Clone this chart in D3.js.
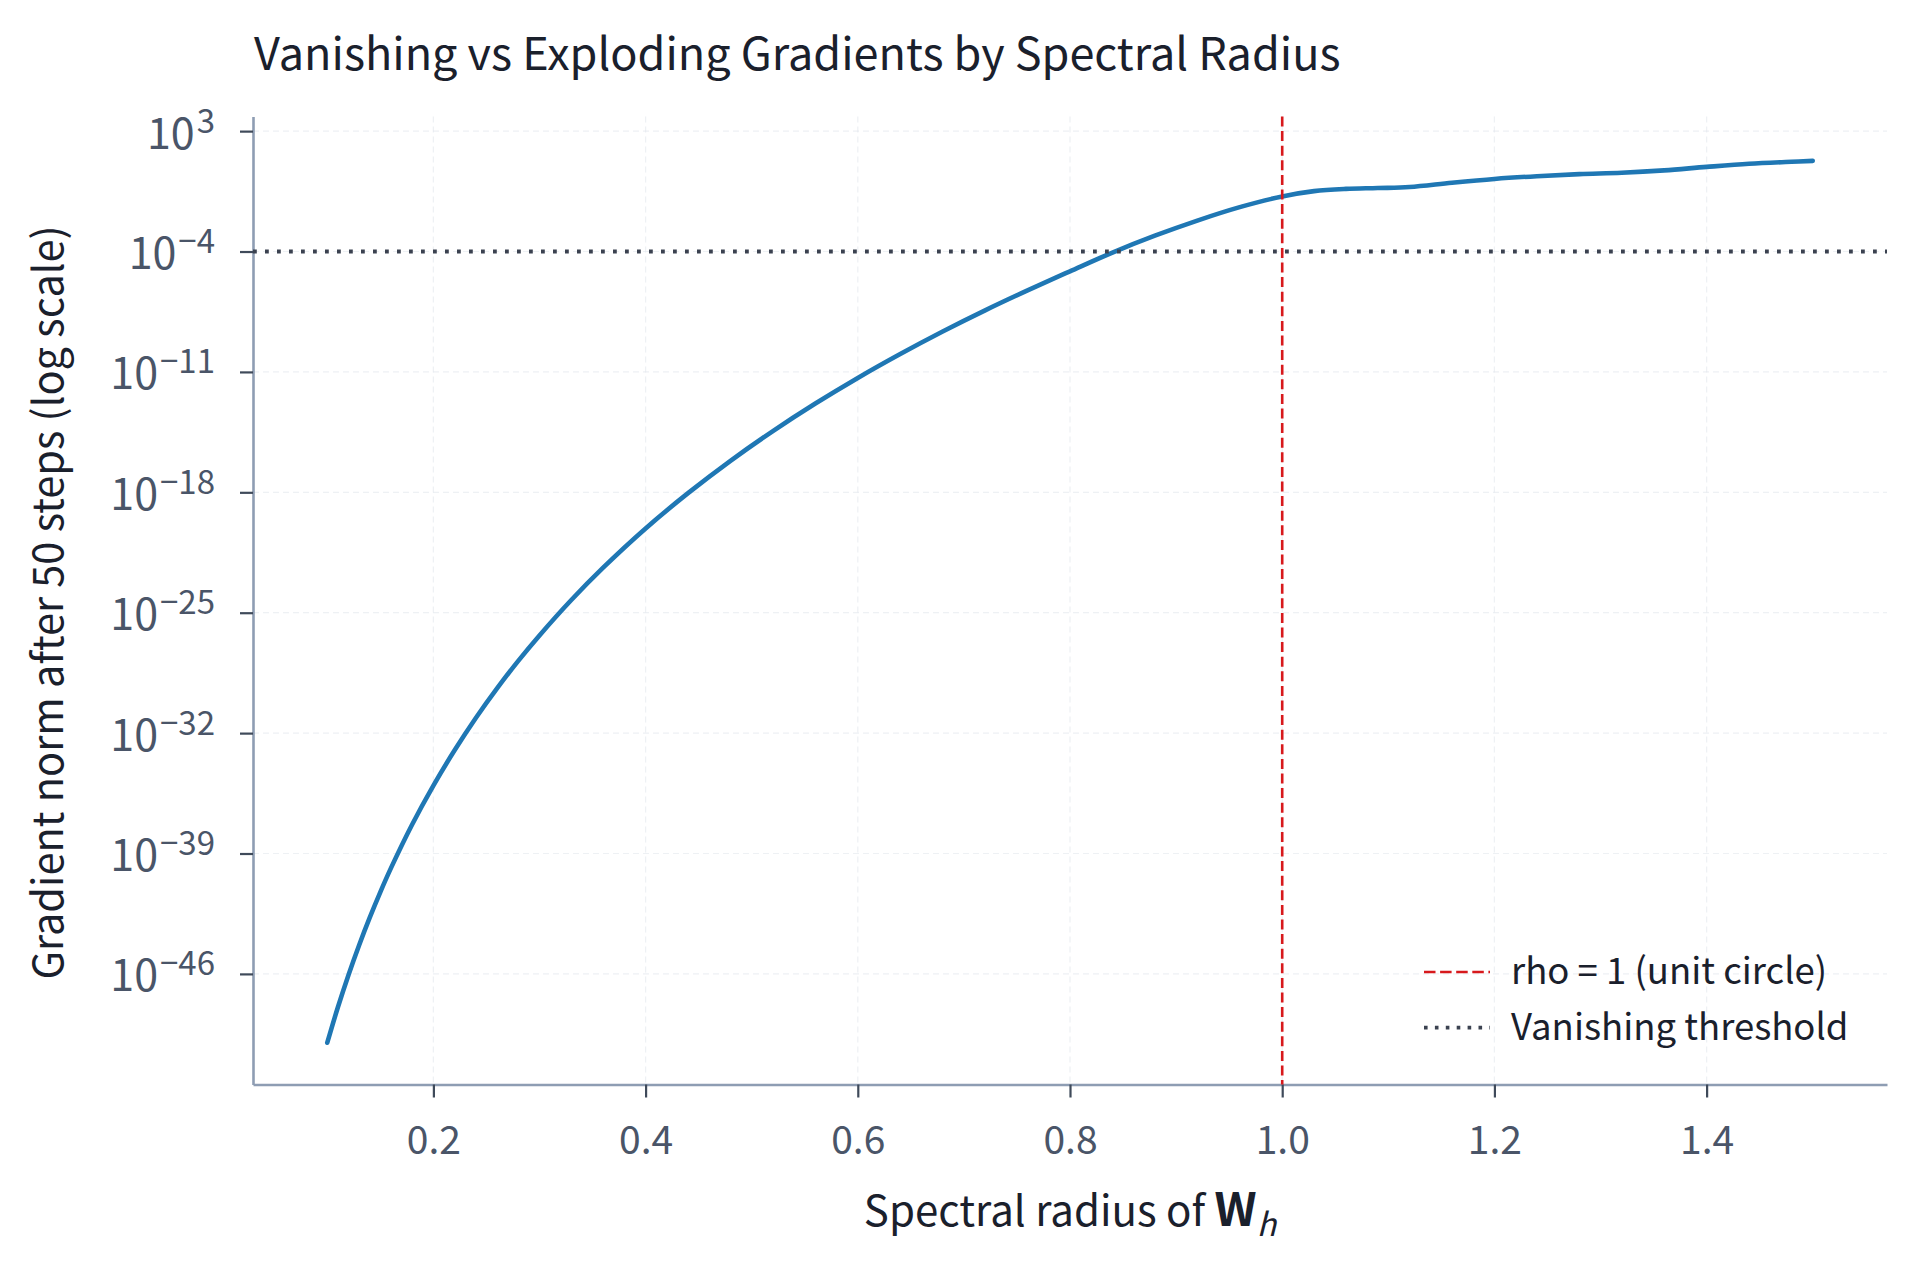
<!DOCTYPE html>
<html>
<head>
<meta charset="utf-8">
<script src="https://cdn.jsdelivr.net/npm/d3@7"></script>
<style>
  body { margin: 0; background: #fff; }
  text { font-family: "Noto Sans CJK KR", "Noto Sans", sans-serif; }
</style>
</head>
<body>
<div id="chart"></div>
<script>
// values
const spectralRadius = [0.10, 0.11, 0.12, 0.13, 0.14, 0.15, 0.16, 0.18, 0.20, 0.22,
                        0.24, 0.26, 0.28, 0.30, 0.33, 0.36, 0.40, 0.44, 0.48, 0.52,
                        0.56, 0.60, 0.64, 0.68, 0.72, 0.76, 0.80, 0.84, 0.88, 0.92,
                        0.96, 1.00, 1.03, 1.06, 1.09, 1.12, 1.16, 1.20, 1.24, 1.28,
                        1.32, 1.36, 1.40, 1.44, 1.48, 1.50];
// gradient norm after 50 steps, as powers of ten
const log10GradNorm = [-50.0, -47.94, -46.06, -44.33, -42.73, -41.24, -39.85, -37.31, -35.05, -33.0,
                       -31.12, -29.4, -27.8, -26.32, -24.26, -22.38, -20.1, -18.05, -16.17, -14.44,
                       -12.84, -11.35, -9.96, -8.65, -7.42, -6.26, -5.15, -4.06, -3.08, -2.2,
                       -1.42, -0.8, -0.49, -0.36, -0.31, -0.25, 0.0, 0.22, 0.38, 0.5,
                       0.58, 0.72, 0.92, 1.1, 1.22, 1.27];
const xTicks = [0.2, 0.4, 0.6, 0.8, 1.0, 1.2, 1.4];
const yTickExponents = [3, -4, -11, -18, -25, -32, -39, -46];
const unitCircleRho = 1.0;
const vanishingExponent = -4;
const legendLabels = ["rho = 1 (unit circle)", "Vanishing threshold"];

const w = 1920;
const h = 1269;
const plotLeft = 253, plotRight = 1887, plotTop = 116.5, plotBottom = 1084.5;
const fontStack = "'Noto Sans CJK KR', 'Noto Sans', sans-serif";

const svg = d3.select("#chart")
              .append("svg")
              .attr("width", w)
              .attr("height", h);

const data = spectralRadius.map((r, i) => [r, Math.pow(10, log10GradNorm[i])]);

const xScale = d3.scaleLinear()
                 .domain([0.03, 1.57])
                 .range([plotLeft, plotRight]);
const yScale = d3.scaleLog()
                 .domain([Math.pow(10, -52.43), Math.pow(10, 3.85)])
                 .range([plotBottom, plotTop]);

// faint grid
const gridColor = "#e3e8ee";
svg.append("g")
   .selectAll("line")
   .data(xTicks)
   .enter()
   .append("line")
   .attr("x1", d => xScale(d)).attr("x2", d => xScale(d))
   .attr("y1", plotTop).attr("y2", plotBottom)
   .attr("stroke", gridColor).attr("stroke-width", 1.2)
   .attr("stroke-dasharray", "6,4").attr("opacity", 0.6);
svg.append("g")
   .selectAll("line")
   .data(yTickExponents)
   .enter()
   .append("line")
   .attr("x1", plotLeft).attr("x2", plotRight)
   .attr("y1", d => yScale(Math.pow(10, d))).attr("y2", d => yScale(Math.pow(10, d)))
   .attr("stroke", gridColor).attr("stroke-width", 1.2)
   .attr("stroke-dasharray", "6,4").attr("opacity", 0.6);

// axes
const xAxis = d3.axisBottom(xScale)
                .tickValues(xTicks)
                .tickFormat(d3.format(".1f"))
                .tickSize(13)
                .tickSizeOuter(0);
const gx = svg.append("g")
              .attr("id", "x-axis")
              .attr("transform", "translate(0," + plotBottom + ")")
              .call(xAxis);

const yAxis = d3.axisLeft(yScale)
                .tickValues(yTickExponents.map(e => Math.pow(10, e)))
                .tickFormat("")
                .tickSize(13)
                .tickSizeOuter(0);
const gy = svg.append("g")
              .attr("id", "y-axis")
              .attr("transform", "translate(" + plotLeft + ",0)")
              .call(yAxis);

[gx, gy].forEach(g => {
  g.select(".domain").attr("stroke", "#8e9db3").attr("stroke-width", 2.6);
  g.selectAll(".tick line").attr("stroke", "#3f4a5a").attr("stroke-width", 2.2);
});
gx.selectAll(".tick text")
  .attr("fill", "#4a5568")
  .attr("y", 69)
  .attr("dy", 0)
  .style("font-size", "39px")
  .style("font-family", fontStack);

// y tick labels as 10^n
gy.selectAll(".tick")
  .data(yTickExponents)
  .each(function(e) {
    const t = d3.select(this).append("text")
                .attr("x", -38)
                .attr("y", 17)
                .attr("fill", "#4a5568")
                .attr("text-anchor", "end")
                .style("font-size", "43px")
                .style("font-family", fontStack);
    t.append("tspan").text("10");
    t.append("tspan")
     .attr("dx", 2)
     .attr("dy", -16)
     .style("font-size", "33px")
     .text(e < 0 ? "\u2212" + Math.abs(e) : String(e));
  });

// curve
const line = d3.line()
               .x(d => xScale(d[0]))
               .y(d => yScale(d[1]))
               .curve(d3.curveCatmullRom.alpha(0.5));
svg.append("path")
   .datum(data)
   .attr("d", line)
   .attr("fill", "none")
   .attr("stroke", "#1f77b4")
   .attr("stroke-width", 4.6)
   .attr("stroke-linecap", "round");

// rho = 1
svg.append("line")
   .attr("x1", xScale(unitCircleRho)).attr("x2", xScale(unitCircleRho))
   .attr("y1", plotTop).attr("y2", plotBottom)
   .attr("stroke", "#d7191c")
   .attr("stroke-width", 2.6)
   .attr("stroke-dasharray", "10,4.6");

// vanishing threshold
const yThr = yScale(Math.pow(10, vanishingExponent));
svg.append("line")
   .attr("x1", plotLeft).attr("x2", plotRight)
   .attr("y1", yThr).attr("y2", yThr)
   .attr("stroke", "#3b4250")
   .attr("stroke-width", 3.8)
   .attr("stroke-dasharray", "3.8,8.2");

// title and axis labels
svg.append("text")
   .attr("x", 254).attr("y", 70)
   .attr("fill", "#1a202c")
   .style("font-size", "45px")
   .text("Vanishing vs Exploding Gradients by Spectral Radius");

const xl = svg.append("text")
              .attr("x", (plotLeft + plotRight) / 2).attr("y", 1226)
              .attr("text-anchor", "middle")
              .attr("fill", "#1a202c")
              .style("font-size", "42px");
xl.append("tspan").text("Spectral radius of ");
xl.append("tspan").style("font-weight", "bold").style("font-size", "46px").text("W");
xl.append("tspan").attr("dy", 10).style("font-style", "italic").style("font-size", "32px").text("h");

svg.append("text")
   .attr("transform", "translate(63," + ((plotTop + plotBottom) / 2 + 2) + ") rotate(-90)")
   .attr("text-anchor", "middle")
   .attr("fill", "#1a202c")
   .style("font-size", "41.5px")
   .text("Gradient norm after 50 steps (log scale)");

// legend
const legend = svg.append("g").attr("transform", "translate(1424,972)");
const legendStyles = [
  { stroke: "#d7191c", width: 2.6, dash: "11.5,4.6" },
  { stroke: "#3b4250", width: 3.6, dash: "3.6,7.3" }
];
legendLabels.forEach((label, i) => {
  const row = legend.append("g").attr("transform", "translate(0," + (i * 55.6) + ")");
  row.append("line")
     .attr("x1", 0).attr("x2", 66)
     .attr("stroke", legendStyles[i].stroke)
     .attr("stroke-width", legendStyles[i].width)
     .attr("stroke-dasharray", legendStyles[i].dash);
  row.append("text")
     .attr("x", 87).attr("y", 12)
     .attr("fill", "#1a202c")
     .style("font-size", "36.5px")
     .text(label);
});
</script>
</body>
</html>
